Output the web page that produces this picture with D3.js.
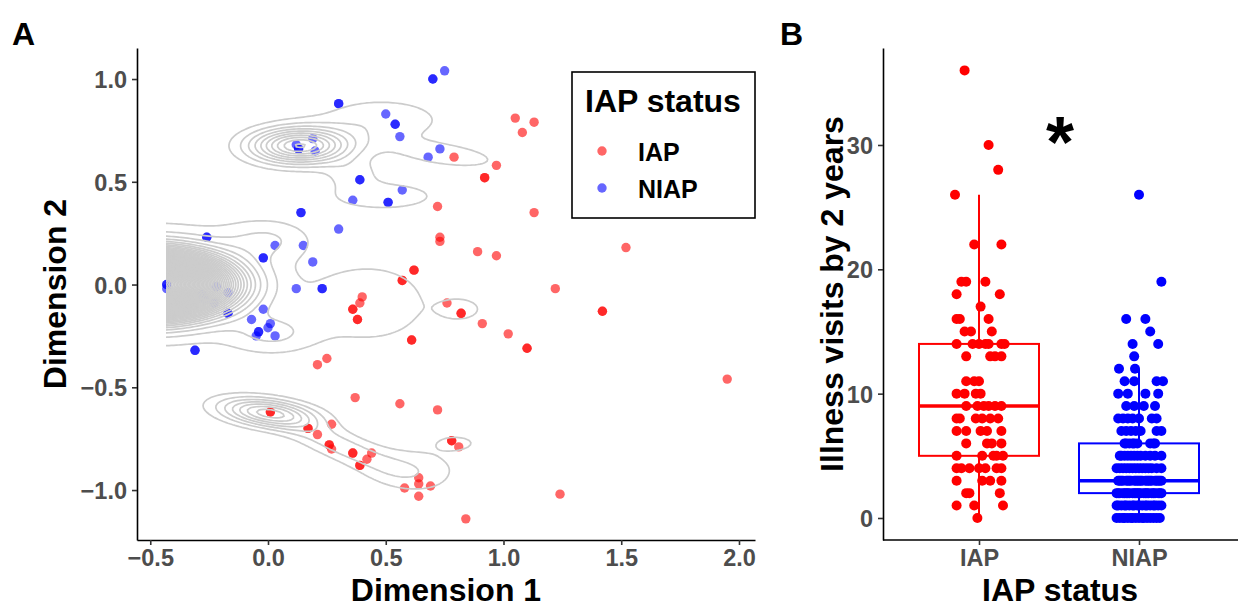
<!DOCTYPE html>
<html>
<head>
<meta charset="utf-8">
<script src="https://cdn.jsdelivr.net/npm/d3@7"></script>
<style>
  body { margin: 0; background: #fff; }
  text { font-family: "Liberation Sans", Arial, sans-serif; font-weight: bold; }
</style>
</head>
<body>
<script>
// ---- panel A data (MDS dimensions) ----
var iapDim1 = [1.05, 1.13, 1.08, 0.79, 0.97, 0.92, 0.92, 0.72, 1.13, 0.73, 0.73, 0.89, 0.97, 1.52,
  0.62, 0.62, 0.57, 0.57, 0.76, 0.82, 0.82, 0.91, 1.02, 1.10, 1.10, 1.22, 1.42, 1.42,
  0.40, 0.39, 0.36, 0.36, 0.38, 0.38, 0.61, 0.61, 0.25, 0.21, 1.95, 0.37, 0.56, 0.72,
  0.01, 0.01, 0.17, 0.17, 0.21, 0.27, 0.26, 0.26, 0.27, 0.36, 0.36, 0.44, 0.42, 0.39, 0.39,
  0.78, 0.78, 0.81, 0.64, 0.64, 0.58, 0.69, 0.64, 1.24, 0.84];
var iapDim2 = [0.81, 0.79, 0.74, 0.62, 0.58, 0.52, 0.52, 0.38, 0.35, 0.23, 0.21, 0.16, 0.14, 0.18,
  0.07, 0.07, 0.02, 0.02, -0.09, -0.14, -0.14, -0.19, -0.24, -0.31, -0.31, -0.02, -0.13, -0.13,
  -0.06, -0.09, -0.12, -0.12, -0.17, -0.17, -0.27, -0.27, -0.36, -0.39, -0.46, -0.55, -0.58, -0.61,
  -0.62, -0.62, -0.70, -0.70, -0.73, -0.68, -0.78, -0.78, -0.80, -0.82, -0.82, -0.82, -0.85, -0.88, -0.88,
  -0.76, -0.76, -0.79, -0.94, -0.97, -0.99, -0.98, -1.03, -1.02, -1.14];
var niapDim1 = [0.70, 0.70, 0.75, 0.30, 0.30, 0.50, 0.54, 0.54, 0.56, 0.19, 0.13, 0.13, 0.12, 0.20,
  0.73, 0.68, 0.39, 0.39, 0.57, 0.36, 0.51, 0.51, 0.14, 0.14, 0.30, -0.26, -0.26, 0.03, 0.15,
  -0.02, -0.02, 0.19, -0.37, -0.43, -0.43, -0.43, -0.22, -0.17, -0.28, -0.27, -0.23, -0.34, -0.35,
  0.12, 0.23, 0.23, -0.17, -0.17, -0.02, -0.07, 0.01, 0.00, -0.04, -0.04, -0.05, 0.03, -0.31, -0.31];
var niapDim2 = [1.00, 1.00, 1.04, 0.88, 0.88, 0.83, 0.78, 0.78, 0.72, 0.71, 0.66, 0.66, 0.68, 0.65,
  0.66, 0.62, 0.51, 0.51, 0.46, 0.41, 0.40, 0.40, 0.35, 0.35, 0.27, 0.23, 0.23, 0.19, 0.19,
  0.13, 0.13, 0.11, 0.07, 0.00, 0.00, -0.02, -0.01, -0.04, -0.05, -0.07, -0.09, -0.11, -0.13,
  -0.02, -0.02, -0.02, -0.14, -0.14, -0.12, -0.17, -0.19, -0.21, -0.23, -0.23, -0.25, -0.25, -0.32, -0.32];

// density blobs behind the grey contours: [cx, cy, sx, sy, height, angle]
var densityBlobs = [
  [-0.52, 0.00, 0.20, 0.09, 60, 0],
  [-0.45, 0.00, 0.28, 0.19, 2.6, 0],
  [0.00, 0.22, 0.13, 0.07, 1.8, 0],
  [0.02, -0.24, 0.13, 0.07, 1.9, 0],
  [0.43, -0.09, 0.20, 0.15, 1.8, 0],
  [0.82, -0.12, 0.067, 0.04, 1.5, 0],
  [0.135, 0.675, 0.14, 0.058, 10, 0],
  [0.48, 0.80, 0.20, 0.08, 1.8, 0],
  [0.76, 0.63, 0.16, 0.04, 1.8, -8],
  [0.49, 0.43, 0.17, 0.05, 1.8, 0],
  [0.36, 0.54, 0.08, 0.05, 1.4, 0],
  [0.00, -0.625, 0.14, 0.045, 7, -8],
  [0.30, -0.78, 0.20, 0.05, 2.5, -25],
  [0.62, -0.90, 0.15, 0.08, 1.6, 0],
  [0.80, -0.77, 0.07, 0.03, 1.3, 0]
];
var densityLevels = d3.range(1, 80, 1);

// ---- panel B data: illness visits by 2 years, [visits, horizontal jitter] rows ----
var iapRows = [
  [36, [-0.09]], [30, [0.06]], [28, [0.12]], [26, [-0.15]], [22, [-0.03, 0.14]],
  [19, [-0.11, -0.08, 0.04]], [18, [-0.14, 0.13]], [17, [0.01]], [16, [-0.14, -0.12, 0.06]],
  [15, [-0.09, -0.05, 0.08]], [14, [-0.14, -0.04, 0, 0.04, 0.06, 0.14, 0.16]],
  [13, [-0.08, 0.07, 0.10, 0.14]], [11, [-0.08, -0.03, 0.0]], [10, [-0.14, -0.09, -0.02, 0.01]],
  [9, [-0.08, -0.01, 0.03, 0.06, 0.10, 0.14]], [8, [-0.14, -0.12, -0.02, 0.02, 0.07, 0.12]],
  [7, [-0.14, -0.08, 0.01, 0.05, 0.14]], [6, [-0.08, 0.05, 0.08, 0.14]],
  [5, [-0.14, 0.02, 0.09, 0.11, 0.15]], [4, [-0.14, -0.11, -0.06, 0, 0.04, 0.11, 0.14]],
  [3, [-0.14, 0.02, 0.07, 0.14]], [2, [-0.08, -0.06, 0.13]], [1, [-0.14, -0.03, 0.15]], [0, [-0.01]]
];
var niapRows = [
  [26, [0.0]], [19, [0.14]], [16, [-0.08, 0.04]], [15, [0.07]], [14, [-0.04, 0.12]], [13, [-0.03]],
  [12, [-0.125, -0.025]], [11, [-0.09, -0.03, 0.11, 0.15]], [10, [-0.13, -0.07, 0.04, 0.12]],
  [9, [-0.08, -0.03, 0.03, 0.10]], [8, [-0.13, -0.10, -0.07, -0.04, 0.0, 0.08, 0.11]],
  [7, [-0.11, -0.08, -0.05, -0.02, 0.01, 0.11, 0.14]],
  [6, [-0.09, -0.08, -0.06, -0.04, -0.03, -0.01, 0.07, 0.09, 0.10]],
  [5, [-0.12, -0.11, -0.09, -0.07, -0.05, -0.03, -0.01, 0.01, 0.04, 0.07, 0.10, 0.14]],
  [4, [-0.14, -0.12, -0.10, -0.08, -0.06, -0.04, -0.02, 0, 0.02, 0.04, 0.06, 0.08, 0.11, 0.14]],
  [3, [-0.13, -0.12, -0.11, -0.10, -0.08, -0.07, -0.06, -0.05, -0.03, -0.02, -0.01, 0, 0.01, 0.02, 0.04, 0.05, 0.06, 0.07, 0.08, 0.10, 0.11, 0.12, 0.13, 0.14]],
  [2, [-0.14, -0.13, -0.12, -0.10, -0.09, -0.08, -0.07, -0.06, -0.04, -0.03, -0.02, -0.01, 0, 0.01, 0.03, 0.04, 0.05, 0.06, 0.08, 0.09, 0.10, 0.12, 0.13, 0.14]],
  [1, [-0.14, -0.13, -0.11, -0.09, -0.08, -0.06, -0.04, -0.03, -0.01, 0, 0.02, 0.04, 0.05, 0.07, 0.09, 0.10, 0.12, 0.14]],
  [0, [-0.14, -0.12, -0.10, -0.09, -0.07, -0.05, -0.04, -0.02, 0, 0.02, 0.03, 0.05, 0.07, 0.09, 0.11, 0.13]]
];
var groups = ["IAP", "NIAP"];
var groupColors = ["#ff0000", "#0000ff"];

var width = 1238, height = 607;
var svg = d3.select("body").append("svg").attr("width", width).attr("height", height);

// ================= Panel A =================
var xA = d3.scaleLinear().domain([-0.5563, 2.068]).range([137, 755]);
var yA = d3.scaleLinear().domain([-1.243, 1.151]).range([540, 48]);

var gA = svg.append("g");

function pointsOf(xs, ys) { return xs.map(function(d, i) { return [d, ys[i]]; }); }
var ptsA = pointsOf(iapDim1, iapDim2).map(function(p) { return {x: p[0], y: p[1], g: 0}; })
  .concat(pointsOf(niapDim1, niapDim2).map(function(p) { return {x: p[0], y: p[1], g: 1}; }));

gA.selectAll("circle.pt").data(ptsA).enter().append("circle")
  .attr("class", "pt")
  .attr("cx", function(d) { return xA(d.x); })
  .attr("cy", function(d) { return yA(d.y); })
  .attr("r", 4.7)
  .style("fill", function(d) { return groupColors[d.g]; })
  .style("fill-opacity", 0.6);

// contours of the density grid
var gx0 = -0.8, gy0 = -1.3, step = 0.01;
var nx = 291, ny = 251;
var grid = new Array(nx * ny);
for (var j = 0; j < ny; j++) {
  for (var i = 0; i < nx; i++) {
    var px = gx0 + i * step, py = gy0 + j * step, v = 0;
    densityBlobs.forEach(function(b) {
      var a = b[5] * Math.PI / 180, dx = px - b[0], dy = py - b[1];
      var u = dx * Math.cos(a) + dy * Math.sin(a);
      var w = -dx * Math.sin(a) + dy * Math.cos(a);
      v += b[4] * Math.exp(-(u * u / (2 * b[2] * b[2]) + w * w / (2 * b[3] * b[3])));
    });
    grid[j * nx + i] = v;
  }
}
var contours = d3.contours().size([nx, ny]).thresholds(densityLevels)(grid);
var gridPath = d3.geoPath(d3.geoTransform({
  point: function(x, y) { this.stream.point(xA(gx0 + (x - 0.5) * step), yA(gy0 + (y - 0.5) * step)); }
}));

svg.append("clipPath").attr("id", "clipA").append("rect")
  .attr("x", xA(-0.433)).attr("y", 48).attr("width", 755 - xA(-0.433)).attr("height", 492);

gA.append("g").attr("clip-path", "url(#clipA)")
  .selectAll("path").data(contours).enter().append("path")
  .attr("d", gridPath)
  .style("fill", "none")
  .style("stroke", "#cccccc")
  .style("stroke-width", 1.7);

// axes A
var axXA = gA.append("g").attr("transform", "translate(0,540)")
  .call(d3.axisBottom(xA).tickValues([-0.5, 0, 0.5, 1, 1.5, 2]).tickFormat(d3.format(".1f")).tickSizeOuter(0));
var axYA = gA.append("g").attr("transform", "translate(137,0)")
  .call(d3.axisLeft(yA).tickValues([-1, -0.5, 0, 0.5, 1]).tickFormat(d3.format(".1f")).tickSizeOuter(0));

// ================= Panel B =================
var xB = d3.scaleLinear().domain([0.4, 2.6]).range([883, 1235]);
var yB = d3.scaleLinear().domain([-1.77, 37.8]).range([540, 48]);
var gB = svg.append("g");

[iapRows, niapRows].forEach(function(rows, gi) {
  var vals = [];
  rows.forEach(function(r) { r[1].forEach(function() { vals.push(r[0]); }); });
  vals.sort(d3.ascending);
  var q1 = d3.quantile(vals, 0.25), med = d3.quantile(vals, 0.5), q3 = d3.quantile(vals, 0.75);
  var iqr = q3 - q1;
  var hi = d3.max(vals.filter(function(v) { return v <= q3 + 1.5 * iqr; }));
  var lo = d3.min(vals.filter(function(v) { return v >= q1 - 1.5 * iqr; }));
  var c = gi + 1, col = groupColors[gi];
  var box = gB.append("g").style("stroke", col).style("fill", "none");
  box.append("line").attr("x1", xB(c)).attr("x2", xB(c)).attr("y1", yB(q3)).attr("y2", yB(hi)).style("stroke-width", 2);
  box.append("line").attr("x1", xB(c)).attr("x2", xB(c)).attr("y1", yB(q1)).attr("y2", yB(lo)).style("stroke-width", 2);
  box.append("rect").attr("x", xB(c - 0.375)).attr("y", yB(q3))
    .attr("width", xB(c + 0.375) - xB(c - 0.375)).attr("height", yB(q1) - yB(q3))
    .style("stroke-width", 2).style("fill", "#fff");
  box.append("line").attr("x1", xB(c - 0.375)).attr("x2", xB(c + 0.375)).attr("y1", yB(med)).attr("y2", yB(med)).style("stroke-width", 3.5);
});

[iapRows, niapRows].forEach(function(rows, gi) {
  var pts = [];
  rows.forEach(function(r) { r[1].forEach(function(jt) { pts.push({v: r[0], j: jt}); }); });
  gB.append("g").selectAll("circle").data(pts).enter().append("circle")
    .attr("cx", function(d) { return xB(gi + 1 + d.j); })
    .attr("cy", function(d) { return yB(d.v); })
    .attr("r", 5)
    .style("fill", groupColors[gi]);
});

var axXB = gB.append("g").attr("transform", "translate(0,540)")
  .call(d3.axisBottom(xB).tickValues([1, 2]).tickFormat(function(d) { return groups[d - 1]; }).tickSizeOuter(0));
var axYB = gB.append("g").attr("transform", "translate(883,0)")
  .call(d3.axisLeft(yB).tickValues([0, 10, 20, 30]).tickSizeOuter(0));

// axis styling
[axXA, axYA, axXB, axYB].forEach(function(ax) {
  var horiz = (ax === axXA || ax === axXB);
  ax.select(".domain").style("stroke", "#000").style("stroke-width", 1.6);
  ax.selectAll(".tick line").style("stroke", "#333").style("stroke-width", 1.6).attr(horiz ? "y2" : "x2", horiz ? 5 : -5);
  ax.selectAll(".tick text").style("font-size", "23.5px").style("fill", "#4d4d4d")
    .style("font-family", "'Liberation Sans', Arial, sans-serif").style("font-weight", "bold");
});
[axXA, axXB].forEach(function(ax) { ax.selectAll(".tick text").attr("y", 9).attr("dy", "0.71em"); });
[axYA, axYB].forEach(function(ax) { ax.selectAll(".tick text").attr("x", -10).attr("dy", "0.36em"); });
axXB.select(".domain").attr("d", "M883,0H1238");

// titles
function label(txt, x, y, size, anchor, rot) {
  var t = svg.append("text").attr("x", x).attr("y", y).text(txt)
    .style("font-size", size + "px").attr("text-anchor", anchor || "start").style("fill", "#000");
  if (rot) t.attr("transform", "rotate(" + rot + "," + x + "," + y + ")");
  return t;
}
label("A", 12, 45, 32);
label("B", 780, 45, 32);
label("Dimension 1", 446, 601, 32, "middle");
label("Dimension 2", 66, 294, 32, "middle", -90);
label("IAP status", 1060, 601, 32, "middle");
label("Illness visits by 2 years", 843, 294, 32, "middle", -90);
label("*", 1060, 167, 72, "middle");

// legend
var leg = svg.append("g");
leg.append("rect").attr("x", 572).attr("y", 72).attr("width", 183).attr("height", 146)
  .style("fill", "#fff").style("stroke", "#000").style("stroke-width", 1.6);
label("IAP status", 585, 112, 32);
groups.forEach(function(g, i) {
  leg.append("circle").attr("cx", 602).attr("cy", 151 + i * 37).attr("r", 4.7)
    .style("fill", groupColors[i]).style("fill-opacity", 0.6);
  label(g, 638, 161 + i * 37, 25);
});
</script>
</body>
</html>
